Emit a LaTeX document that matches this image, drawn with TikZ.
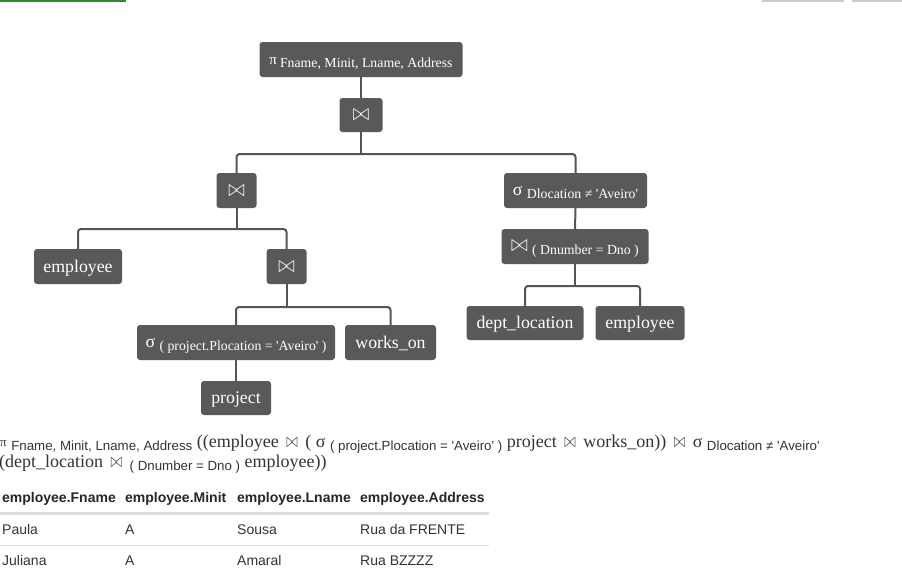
\documentclass[tikz,border=0pt]{standalone}
\usepackage{fontspec}
\usepackage{graphicx}
\setmainfont{Liberation Serif}[Ligatures=TeXOff]
\newfontfamily\arial{Liberation Sans}
\newcommand\fsz[1]{\fontsize{#1}{#1}\selectfont}
\newcommand\nsub[1]{\raisebox{-3.5pt}{\fsz{13.8}#1}}
\newcommand\esub[1]{\raisebox{-3.2pt}{\arial\fsz{13.3}#1}}
\newcommand\bt{\resizebox{16.5pt}{11pt}{$\bowtie$}}
\newcommand\ebt{\hspace{3pt}\resizebox{11.5pt}{9.5pt}{$\bowtie$}\hspace{3pt}}
\definecolor{boxgray}{HTML}{595959}
\definecolor{linegray}{HTML}{555555}
\definecolor{textdark}{HTML}{333333}
\definecolor{rulegray}{HTML}{DDDDDD}
\definecolor{topgreen}{HTML}{2E8B2E}
\definecolor{topgray}{HTML}{CCCCCC}
\tikzset{
  opbox/.style={fill=boxgray, rounded corners=3pt, text=white, inner sep=0pt, font=\fsz{17.8}, minimum height=35pt, text height=14pt, text depth=3pt},
  subbox/.style={opbox, text height=12pt, text depth=3pt},
  conn/.style={draw=linegray, line width=2pt, rounded corners=3pt},
  exprline/.style={anchor=base west, inner sep=0pt, text=textdark, font=\fsz{18}},
  thead/.style={anchor=base west, inner sep=0pt, text=black!85, font=\arial\bfseries\fsz{14}},
  tcell/.style={anchor=base west, inner sep=0pt, text=black!80, font=\arial\fsz{14}}
}
\begin{document}
\begin{tikzpicture}[x=1pt,y=1pt]
\useasboundingbox (0,0) rectangle (902,-576);
% page decorations at top
\fill[topgreen] (0,0) rectangle (126,-1.5);
\fill[topgray] (762,0) rectangle (844,-1.5);
\fill[topgray] (852,0) rectangle (902,-1.5);
% tree nodes
\node[subbox, minimum width=203pt] (root) at (361,-59.5) {{\fsz{15}π}\,\nsub{Fname, Minit, Lname, Address}};
\node[opbox, minimum width=43pt, minimum height=34pt] (j1) at (361,-115) {\bt};
\node[opbox, minimum width=40pt] (j2) at (236.5,-190.5) {\bt};
\node[subbox, minimum width=143pt] (sD) at (575.5,-190.5) {σ \nsub{Dlocation ≠ 'Aveiro'}};
\node[subbox, minimum width=147pt] (jD) at (575,-246.5) {\bt\ \nsub{( Dnumber = Dno )}};
\node[opbox, minimum width=117pt, minimum height=34pt] (dept) at (525,-323) {dept\_location};
\node[opbox, minimum width=89pt, minimum height=34pt] (emp2) at (640,-323) {employee};
\node[opbox, minimum width=88pt] (emp1) at (78,-266.5) {employee};
\node[opbox, minimum width=40pt] (j3) at (286.5,-266.5) {\bt};
\node[subbox, minimum width=198pt] (sP) at (236,-342.5) {σ \nsub{( project.Plocation = 'Aveiro' )}};
\node[opbox, minimum width=91pt] (works) at (390.5,-342.5) {works\_on};
\node[opbox, minimum width=70pt, minimum height=34pt] (proj) at (236,-398) {project};
% bus points
\coordinate (b1) at (361,-154);
\coordinate (b2) at (236.5,-229);
\coordinate (b3) at (286.5,-307);
\coordinate (bD) at (575,-286);
% connectors
\draw[conn] (root.south) -- (j1.north);
\draw[conn] (j1.south) -- (b1);
\draw[conn] (j2.north) |- (b1) -| (sD.north);
\draw[conn] (sD.south) -- (jD.north);
\draw[conn] (jD.south) -- (bD);
\draw[conn] (dept.north) |- (bD) -| (emp2.north);
\draw[conn] (j2.south) -- (b2);
\draw[conn] (emp1.north) |- (b2) -| (j3.north);
\draw[conn] (j3.south) -- (b3);
\draw[conn] (sP.north) |- (b3) -| (works.north);
\draw[conn] (sP.south) -- (proj.north);
% expression
\node[exprline] (expr1) at (0,-447) {\raisebox{1pt}{\fsz{13}π} \esub{Fname, Minit, Lname, Address} ((employee \ebt\ ( σ \esub{( project.Plocation = 'Aveiro' )} project \ebt\ works\_on)) \ebt\ σ \esub{Dlocation ≠ 'Aveiro'}};
\node[exprline] (expr2) at (-1,-467) {(dept\_location \ebt\ \esub{( Dnumber = Dno )} employee))};
% table
\node[thead] (h1) at (2,-502) {employee.Fname};
\node[thead] (h2) at (125,-502) {employee.Minit};
\node[thead] (h3) at (237,-502) {employee.Lname};
\node[thead] (h4) at (360,-502) {employee.Address};
\fill[rulegray] (0,-512) rectangle (489,-514.5);
\node[tcell] (r1c1) at (2,-534) {Paula};
\node[tcell] (r1c2) at (125,-534) {A};
\node[tcell] (r1c3) at (237,-534) {Sousa};
\node[tcell] (r1c4) at (360,-534) {Rua da FRENTE};
\fill[rulegray] (0,-544.5) rectangle (489,-545.5);
\node[tcell] (r2c1) at (2,-565) {Juliana};
\node[tcell] (r2c2) at (125,-565) {A};
\node[tcell] (r2c3) at (237,-565) {Amaral};
\node[tcell] (r2c4) at (360,-565) {Rua BZZZZ};
\end{tikzpicture}
\end{document}
